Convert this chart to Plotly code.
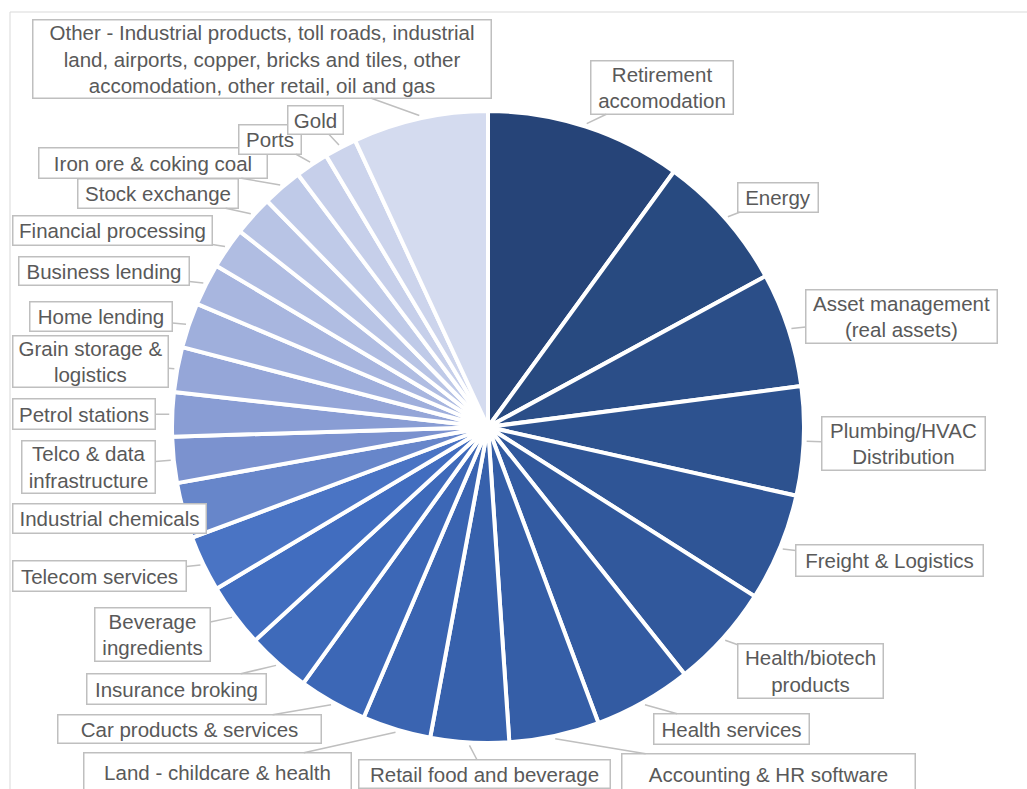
import math
import plotly.graph_objects as go

W, H = 1027, 789

# ---------------- data ----------------
categories = [
    "Retirement accomodation", "Energy", "Asset management (real assets)",
    "Plumbing/HVAC Distribution", "Freight & Logistics", "Health/biotech products",
    "Health services", "Accounting & HR software", "Retail food and beverage",
    "Land - childcare & health", "Car products & services", "Insurance broking",
    "Beverage ingredients", "Telecom services", "Industrial chemicals",
    "Telco & data infrastructure", "Petrol stations", "Grain storage & logistics",
    "Home lending", "Business lending", "Financial processing", "Stock exchange",
    "Iron ore & coking coal", "Ports", "Gold",
    "Other - Industrial products, toll roads, industrial land, airports, copper, bricks and tiles, other accomodation, other retail, oil and gas",
]
values = [10.0, 7.05, 5.85, 5.55, 5.5, 5.3, 5.0, 4.6, 4.0, 3.5, 3.5, 3.25, 3.25, 2.85,
          2.85, 2.35, 2.25, 2.3, 2.3, 2.15, 2.1, 2.05, 2.05, 1.7, 1.65, 6.9]
display_labels = [
    "Retirement<br>accomodation", "Energy", "Asset management<br>(real assets)",
    "Plumbing/HVAC<br>Distribution", "Freight & Logistics", "Health/biotech<br>products",
    "Health services", "Accounting & HR software", "Retail food and beverage",
    "Land - childcare & health", "Car products & services", "Insurance broking",
    "Beverage<br>ingredients", "Telecom services", "Industrial chemicals",
    "Telco & data<br>infrastructure", "Petrol stations", "Grain storage &<br>logistics",
    "Home lending", "Business lending", "Financial processing", "Stock exchange",
    "Iron ore & coking coal", "Ports", "Gold",
    "Other - Industrial products, toll roads, industrial<br>land, airports, copper, bricks and tiles, other<br>accomodation, other retail, oil and gas",
]

# ---------------- styles / layout ----------------
colors = ['#264478', '#284a80', '#2b4e88', '#2d528f', '#2f5596', '#31589c', '#335ba2',
          '#355ea7', '#3761ac', '#3a64b1', '#3c67b6', '#3e6aba', '#416dbf', '#4a74c4',
          '#6786ca', '#7b92cf', '#899dd4', '#95a6d8', '#9fafdc', '#a8b6df', '#b0bde2',
          '#b8c4e5', '#bfcae8', '#c6cfea', '#ccd4ec', '#d4dbef']

# label boxes: left, top, right, bottom (pixels)
boxes = [
    (590, 60, 734, 115), (737, 182, 819, 213), (805, 289, 998, 344),
    (821, 416, 986, 471), (795, 544, 984, 577), (737, 643, 884, 699),
    (653, 713, 810, 745), (621, 753, 916, 795), (358, 759, 611, 789),
    (83, 752, 352, 792), (57, 714, 322, 744), (86, 673, 267, 705),
    (94, 607, 211, 662), (12, 560, 187, 592), (12, 503, 207, 534),
    (21, 440, 156, 494), (12, 398, 156, 430), (12, 335, 169, 388),
    (29, 301, 173, 332), (18, 256, 190, 286), (12, 215, 213, 246),
    (77, 178, 239, 209), (38, 147, 268, 179), (238, 124, 302, 155),
    (287, 105, 344, 135), (32, 19, 492, 99),
]

CX, CY, R = 488, 427, 316

fig = go.Figure(go.Pie(
    labels=categories, values=values, sort=False, direction="clockwise", rotation=0,
    marker=dict(colors=colors, line=dict(color="white", width=4)),
    textinfo="none", hoverinfo="label+percent", showlegend=False,
    domain=dict(x=[(CX - R) / W, (CX + R) / W], y=[(H - CY - R) / H, (H - CY + R) / H]),
))

total = sum(values)
cum = 0.0
annotations = []
BW = 1.5
for lab, v, (l, t, r, b) in zip(display_labels, values, boxes):
    mid = (cum + v / 2) / total * 2 * math.pi
    cum += v
    tr = R + 3
    tx = CX + tr * math.sin(mid)
    ty = CY - tr * math.cos(mid)
    bx, by = (l + r) / 2, (t + b) / 2
    annotations.append(dict(
        x=tx / W, y=1 - ty / H, xref="paper", yref="paper",
        ax=bx - tx, ay=by - ty, axref="pixel", ayref="pixel",
        text=lab, showarrow=True, arrowhead=0, arrowwidth=1.5, arrowcolor="#bfbfbf",
        standoff=0, startstandoff=0,
        width=(r - l) - 2 * BW, height=(b - t) - 2 * BW, borderpad=0,
        bordercolor="#bfbfbf", borderwidth=BW, bgcolor="white",
        align="center", valign="middle",
        font=dict(family="Liberation Sans, Arial, sans-serif", size=20.5, color="#595959"),
    ))

fig.update_layout(
    width=W, height=H, margin=dict(l=0, r=0, t=0, b=0),
    paper_bgcolor="white", plot_bgcolor="white",
    annotations=annotations,
    shapes=[dict(type="rect", xref="paper", yref="paper",
                 x0=10 / W, x1=1.05, y0=-0.05, y1=1 - 12 / H,
                 line=dict(color="#d9d9d9", width=1), layer="below")],
)

fig.write_html("out.html")
